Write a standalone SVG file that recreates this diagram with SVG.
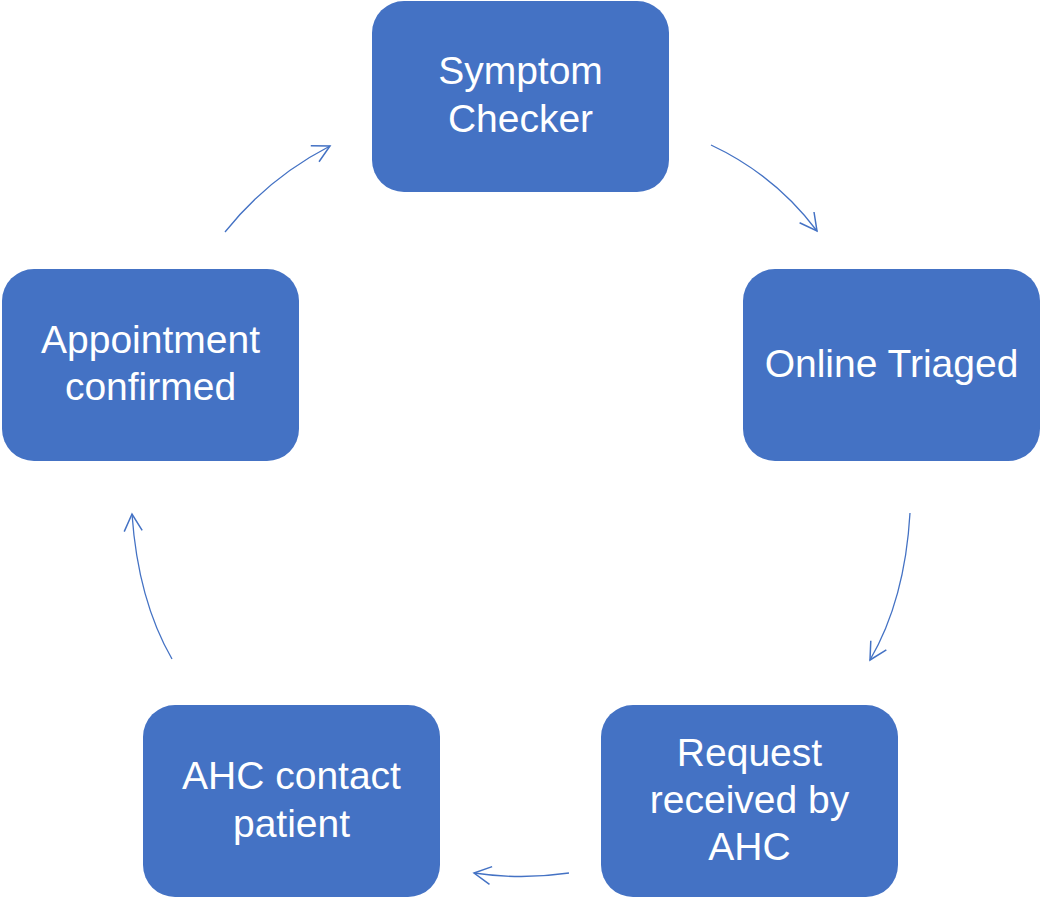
<svg xmlns="http://www.w3.org/2000/svg" width="1041" height="898" viewBox="0 0 1041 898">
<defs>
<style>
.box{fill:#4472C4;}
.lbl{fill:#fff;font-family:"Liberation Sans",Arial,sans-serif;font-size:39px;text-anchor:middle;}
.conn{fill:none;stroke:#4472C4;stroke-width:1.3;}
</style>
<marker id="ah" markerUnits="userSpaceOnUse" markerWidth="40" markerHeight="40" refX="0" refY="0" viewBox="-20 -20 40 40" orient="auto">
<path d="M-17,-9 L0,0 L-17,9" fill="none" stroke="#4472C4" stroke-width="1.5"/>
</marker>
</defs>
<rect width="1041" height="898" fill="#fff"/>
<g id="n1"><rect class="box" x="372" y="1" width="297" height="191" rx="32"/><text class="lbl" x="520.5" y="84">Symptom</text><text class="lbl" x="520.5" y="132">Checker</text></g>
<g id="n2"><rect class="box" x="743" y="269" width="297" height="192" rx="32"/><text class="lbl" x="891.5" y="377">Online Triaged</text></g>
<g id="n3"><rect class="box" x="601" y="705" width="297" height="192" rx="32"/><text class="lbl" x="749.5" y="766">Request</text><text class="lbl" x="749.5" y="813">received by</text><text class="lbl" x="749.5" y="860">AHC</text></g>
<g id="n4"><rect class="box" x="143" y="705" width="297" height="192" rx="32"/><text class="lbl" x="291.5" y="789">AHC contact</text><text class="lbl" x="291.5" y="837">patient</text></g>
<g id="n5"><rect class="box" x="2" y="269" width="297" height="192" rx="32"/><text class="lbl" x="150.5" y="353">Appointment</text><text class="lbl" x="150.5" y="400">confirmed</text></g>
<g id="connectors">
<path class="conn" d="M225,232 Q268,178 330,146" marker-end="url(#ah)"/>
<path class="conn" d="M711,145 Q775,175 817,231" marker-end="url(#ah)"/>
<path class="conn" d="M910,513 Q905,600 870,660" marker-end="url(#ah)"/>
<path class="conn" d="M569,873 Q521,880 474,873" marker-end="url(#ah)"/>
<path class="conn" d="M172,659 Q138,600 132,514" marker-end="url(#ah)"/>
</g>
</svg>
